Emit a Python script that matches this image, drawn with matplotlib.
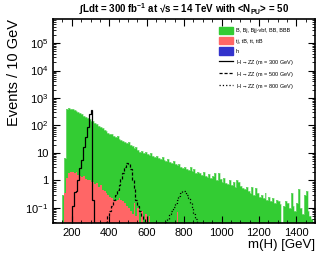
import numpy as np
import matplotlib
matplotlib.use("Agg")
import matplotlib.pyplot as plt
from matplotlib.patches import Patch
from matplotlib.lines import Line2D
from matplotlib.ticker import FixedLocator, FixedFormatter, MultipleLocator, LogLocator

plt.rcParams['font.family'] = ['Liberation Sans', 'DejaVu Sans']
plt.rcParams['mathtext.fontset'] = 'custom'
plt.rcParams['mathtext.rm'] = 'Liberation Sans'
plt.rcParams['mathtext.bf'] = 'Liberation Sans:bold'
plt.rcParams['mathtext.default'] = 'regular'

# 10 GeV bins from 100 to 1500 GeV
edges = np.arange(100, 1510, 10)

# B, Bj, Bjj-vbf, BB, BBB
bkg_b = [0, 0, 0, 0, 0, 0.3, 6, 400, 420, 410,
         380, 360, 340, 300, 280, 250, 215, 200, 185, 170,
         150, 140, 125, 115, 95, 85, 78, 70, 62, 55,
         48, 50, 42, 38, 40, 33, 30, 28, 25, 22,
         24, 19, 18, 15, 16, 13, 11, 12, 10, 11,
         9, 8.5, 10, 8, 7, 7.5, 6.5, 6, 7, 5.5,
         5, 6, 4.5, 4.2, 5, 3.8, 3.5, 4, 3, 2.8,
         3.2, 2.6, 2.4, 3, 2.2, 2.5, 1.9, 2.1, 1.8, 1.6,
         2.0, 1.5, 1.3, 1.7, 1.2, 1.4, 1.9, 1.0, 1.9, 1.1,
         0.9, 1.2, 0.8, 0.75, 1.0, 0.7, 0.85, 0.6, 1.0, 0.9,
         0.65, 0.55, 0.5, 0.6, 0.4, 0.35, 0.6, 0.3, 0.55, 0.35,
         0.25, 0.3, 0.22, 0.35, 0.2, 0.25, 0.18, 0.22, 0.15, 0.2,
         0.18, 0.14, 0, 0.12, 0.18, 0.15, 0.1, 0.35, 0.12, 0.08,
         0.15, 0.5, 0.1, 0.06, 0.3, 0.4, 0.08, 0.05, 0.04, 0.03]

# tj, tB, tt, ttB
bkg_t = [0, 0, 0, 0, 0, 0, 0.35, 1.2, 1.9, 2.0,
         2.1, 1.8, 2.0, 1.6, 1.5, 1.3, 1.4, 1.1, 1.0, 1.0,
         0.9, 0.85, 0.75, 0.8, 0.6, 0.7, 0.45, 0.4, 0.35, 0.3,
         0.25, 0.22, 0.2, 0.18, 0.2, 0.22, 0.2, 0.18, 0.15, 0.12,
         0.1, 0.08, 0.06, 0.15, 0.05, 0.1, 0, 0.08, 0, 0.06,
         0, 0.05, 0, 0, 0, 0, 0, 0, 0, 0,
         0, 0, 0, 0, 0, 0, 0.07, 0, 0, 0] + [0] * 70

# H -> ZZ signals: (first bin low edge, bin contents)
sig300_start = 200
sig300 = [0.12, 0.37, 0.4, 1.0, 2.8, 5.5, 16, 38, 90, 270, 380, 0.2]
sig500_start = 380
sig500 = [0.03, 0.05, 0.08, 0.12, 0.2, 0.3, 0.45, 0.7, 1.1, 1.8, 3.0, 4.3,
          4.0, 2.5, 1.0, 0.5, 0.2, 0.12, 0.08, 0.05, 0.04, 0.03]
sig800_start = 700
sig800 = [0.03, 0.04, 0.06, 0.08, 0.11, 0.15, 0.2, 0.27, 0.35, 0.42,
          0.4, 0.3, 0.22, 0.15, 0.1, 0.06, 0.04]

FLOOR = 1e-4


def clip(v):
    v = np.asarray(v, dtype=float)
    return np.where(v > 0, v, FLOOR)


fig = plt.figure(figsize=(3.32, 2.57), dpi=100)
ax = fig.add_axes([0.16, 0.132, 0.789, 0.794])
ax.set_yscale('log')

b = np.asarray(bkg_b, dtype=float)
t = np.asarray(bkg_t, dtype=float)
ax.stairs(clip(b + t), edges, fill=True, color='#33cc33', baseline=FLOOR)
ax.stairs(clip(b + t), edges, fill=False, color='#9adf9a', lw=0.4, baseline=FLOOR)
ax.stairs(clip(t), edges, fill=True, color='#ff6666', baseline=FLOOR)

for start, vals, ls in [(sig300_start, sig300, '-'),
                        (sig500_start, sig500, (0, (2.5, 1.5))),
                        (sig800_start, sig800, ':')]:
    e = np.arange(start, start + 10 * len(vals) + 1, 10)
    ax.stairs(clip(vals), e, color='black', lw=0.9, ls=ls, baseline=FLOOR)

ax.set_xlim(100, 1500)
ax.set_ylim(0.028, 7.5e5)

ax.xaxis.set_major_locator(FixedLocator([200, 400, 600, 800, 1000, 1200, 1400]))
ax.xaxis.set_minor_locator(MultipleLocator(50))
ax.yaxis.set_major_locator(FixedLocator([0.1, 1, 10, 100, 1e3, 1e4, 1e5]))
ax.yaxis.set_major_formatter(FixedFormatter(['$10^{-1}$', '1', '10', '$10^{2}$',
                                             '$10^{3}$', '$10^{4}$', '$10^{5}$']))
ax.yaxis.set_minor_locator(LogLocator(base=10, subs=np.arange(2, 10), numticks=20))
ax.yaxis.set_minor_formatter(FixedFormatter([]))
ax.tick_params(which='both', direction='in', top=True, right=True, labelsize=8)
ax.tick_params(which='major', length=5, width=0.8)
ax.tick_params(which='minor', length=2.5, width=0.6)
for s in ax.spines.values():
    s.set_linewidth(1.2)

ax.set_xlabel('m(H) [GeV]', fontsize=9.5, loc='right', labelpad=1)
ax.set_ylabel('Events / 10 GeV', fontsize=10.5, loc='top', labelpad=3)

fig.text(0.555, 0.965,
         r'$\int$Ldt = 300 fb$^{\mathbf{-1}}$ at √s = 14 TeV with <N$_{\mathbf{PU}}$> = 50',
         ha='center', va='center', fontsize=7, fontweight='bold')

handles = [Patch(color='#33cc33'), Patch(color='#ff6666'), Patch(color='#3333cc'),
           Line2D([], [], color='black', lw=0.9, ls='-'),
           Line2D([], [], color='black', lw=0.9, ls=(0, (2.5, 1.5))),
           Line2D([], [], color='black', lw=0.9, ls=':')]
labels = ['B, Bj, Bjj-vbf, BB, BBB', 'tj, tB, tt, ttB', 'h',
          r'H$\rightarrow$ZZ (m = 300 GeV)', r'H$\rightarrow$ZZ (m = 500 GeV)',
          r'H$\rightarrow$ZZ (m = 800 GeV)']
leg = ax.legend(handles, labels, loc='upper left', bbox_to_anchor=(0.62, 0.98),
                frameon=False, fontsize=4, handlelength=2.4, handleheight=1.6,
                labelspacing=0.55, handletextpad=0.6, borderpad=0.2)

fig.savefig('out.png', dpi=100)
